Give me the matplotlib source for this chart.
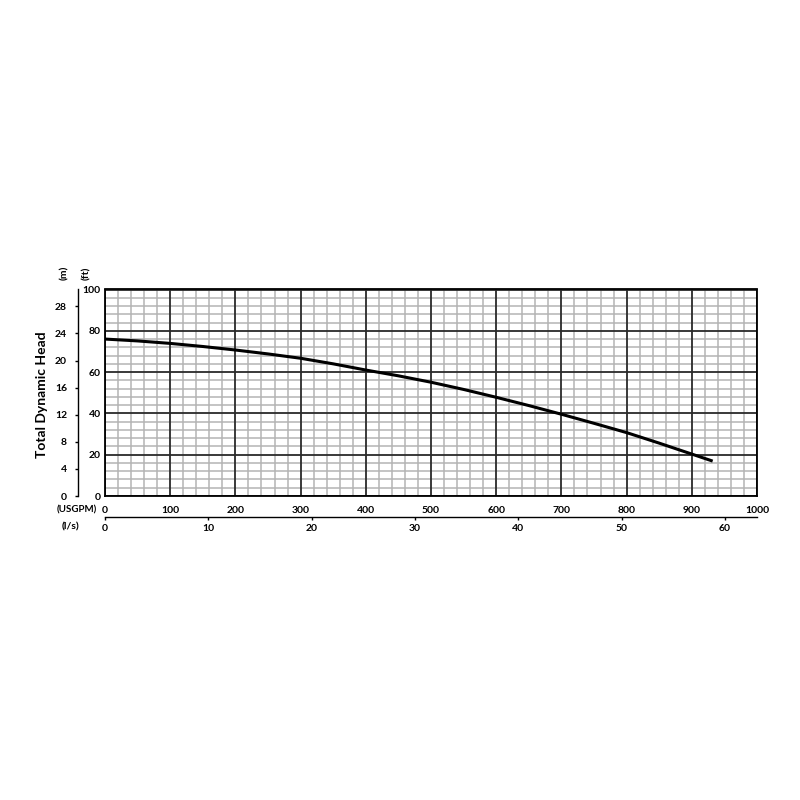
import matplotlib
matplotlib.use("Agg")
import matplotlib.pyplot as plt
import numpy as np

plt.rcParams['font.family'] = ['Lato', 'DejaVu Sans']
plt.rcParams['font.weight'] = 'bold'

# Pump curve data (flow in USGPM, head in ft)
flow_gpm = [0, 50, 100, 150, 200, 250, 300, 350, 400, 450, 500, 550, 600, 650, 700, 750, 800, 850, 900, 932]
head_ft = [76.0, 75.1, 73.9, 72.4, 70.7, 68.8, 66.7, 64.0, 61.0, 58.2, 55.1, 51.6, 47.8, 43.8, 39.6, 35.2, 30.7, 25.6, 20.3, 16.9]

gpm_ticks = [0, 100, 200, 300, 400, 500, 600, 700, 800, 900, 1000]
ft_ticks = [0, 20, 40, 60, 80, 100]
m_ticks = [0, 4, 8, 12, 16, 20, 24, 28]
ls_ticks = [0, 10, 20, 30, 40, 50, 60]

FT_PER_M = 3.28084
GPM_PER_LS = 15.8503

W, H = 800, 800
PT = 72 / 100  # points per pixel at dpi 100
fig = plt.figure(figsize=(8, 8), dpi=100)
fig.patch.set_facecolor('white')

ax = fig.add_axes([105 / W, 1 - 496 / H, 652 / W, 206.5 / H])
ax.set_xlim(0, 1000)
ax.set_ylim(0, 100)
ax.set_xticks(gpm_ticks)
ax.set_yticks(ft_ticks)
ax.tick_params(which='both', length=0, labelsize=7.5)
ax.tick_params(axis='x', pad=7)
ax.tick_params(axis='y', pad=3)

# grid: minor first, then major on top
for xv in np.arange(0, 1001, 20):
    if xv % 100:
        ax.axvline(xv, color='#b4b4b4', lw=1.1, zorder=1)
for yv in np.arange(0, 101, 4):
    if yv % 20:
        ax.axhline(yv, color='#b4b4b4', lw=1.1, zorder=1)
for xv in gpm_ticks:
    ax.axvline(xv, color='#2a2a2a', lw=1.3, zorder=2)
for yv in ft_ticks:
    ax.axhline(yv, color='#2a2a2a', lw=1.3, zorder=2)

for s in ax.spines.values():
    s.set_color('black')
    s.set_linewidth(1.3)
for lbl in ax.get_xticklabels() + ax.get_yticklabels():
    lbl.set_fontweight('bold')

ax.plot(flow_gpm, head_ft, color='black', lw=2.2, solid_capstyle='butt', zorder=5)

# metre axis
ax_m = ax.twinx()
ax_m.set_ylim(0, 100 / FT_PER_M)
ax_m.set_yticks(m_ticks)
ax_m.yaxis.tick_left()
ax_m.yaxis.set_label_position('left')
for k in ['right', 'top', 'bottom']:
    ax_m.spines[k].set_visible(False)
ax_m.spines['left'].set_visible(True)
ax_m.spines['left'].set_position(('outward', 27 * PT))
ax_m.spines['left'].set_linewidth(1.0)
ax_m.tick_params(axis='y', direction='out', length=3 * PT, width=1, labelsize=7.5, pad=8 * PT)
for lbl in ax_m.get_yticklabels():
    lbl.set_fontweight('bold')

# l/s axis
ax_l = ax.twiny()
ax_l.set_xlim(0, 1000 / GPM_PER_LS)
ax_l.set_xticks(ls_ticks)
ax_l.xaxis.tick_bottom()
for k in ['right', 'top', 'left']:
    ax_l.spines[k].set_visible(False)
ax_l.spines['bottom'].set_visible(True)
ax_l.spines['bottom'].set_position(('outward', 21 * PT))
ax_l.spines['bottom'].set_linewidth(1.0)
ax_l.tick_params(axis='x', direction='out', length=3 * PT, width=1, labelsize=7.5, pad=4 * PT)
for lbl in ax_l.get_xticklabels():
    lbl.set_fontweight('bold')

def ftxt(x, y, s, **kw):
    fig.text(x / W, 1 - y / H, s, ha='center', va='center', fontweight='bold', **kw)

ftxt(42, 395, 'Total Dynamic Head', fontsize=10, rotation=90)
ftxt(65, 273, '(m)', fontsize=7.5, rotation=90)
ftxt(87, 273, '(ft)', fontsize=7.5, rotation=90)
ftxt(77, 510, '(USGPM)', fontsize=7)
ftxt(71, 527, '(l/s)', fontsize=7.5)

fig.savefig('out.png', dpi=100, facecolor='white')
